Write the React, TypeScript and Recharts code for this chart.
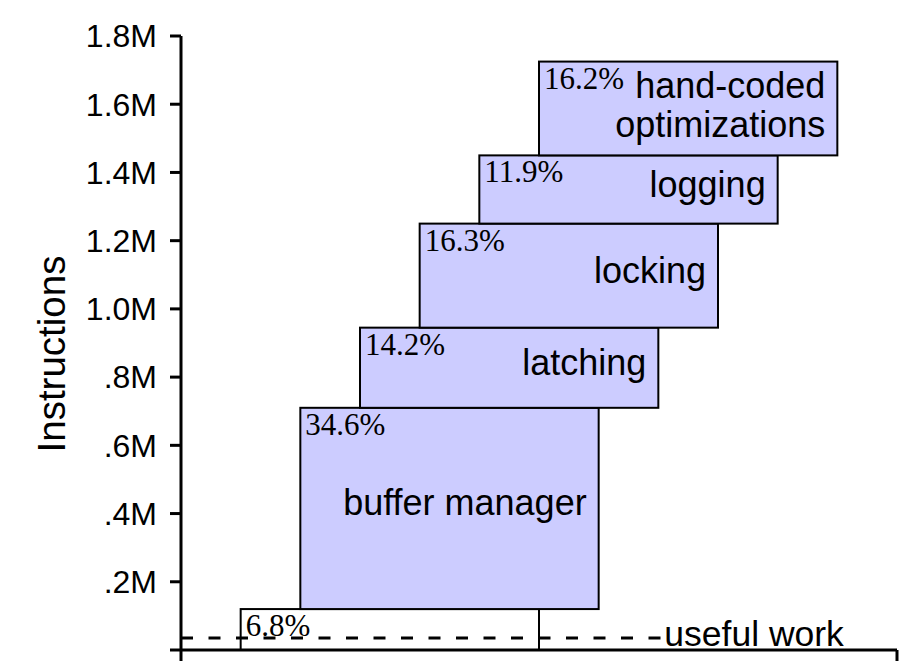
import React from 'react';
import { ComposedChart, XAxis, YAxis, ReferenceArea, ReferenceLine, Label } from 'recharts';

// ---- data ----
const categories = ['useful work', 'buffer manager', 'latching', 'locking', 'logging', 'hand-coded optimizations'];
const nameLines: string[][] = [[], ['buffer manager'], ['latching'], ['locking'], ['logging'], ['hand-coded', 'optimizations']];
const percentLabels = ['6.8%', '34.6%', '14.2%', '16.3%', '11.9%', '16.2%'];
const bottoms = [0, 0.12, 0.71, 0.945, 1.25, 1.45]; // millions of instructions
const tops = [0.12, 0.71, 0.945, 1.25, 1.45, 1.725];
const stepStart = [1, 2, 3, 4, 5, 6];
const stepEnd = [6, 7, 8, 9, 10, 11];
const usefulWorkLevel = 0.035;
const usefulWorkEnd = 8.05;
const yTicks = [0, 0.2, 0.4, 0.6, 0.8, 1.0, 1.2, 1.4, 1.6, 1.8];
const xTicks = [0, 12];

const rows = categories.map((c, i) => ({ name: c, x: stepStart[i], low: bottoms[i], high: tops[i] }));

const SANS = '"Liberation Sans", Arial, Helvetica, sans-serif';
const SERIF = '"Liberation Serif", "Times New Roman", serif';
const BOX_FILL = '#CCCCFF';

const fmtY = (v: number) => {
  if (v === 0) return '';
  if (v < 1) return '.' + Math.round(v * 10) + 'M';
  return v.toFixed(1) + 'M';
};

const makeBoxShape = (i: number) => (props: any) => {
  const { x, y, width, height } = props;
  const lines = nameLines[i];
  const mid = y + height / 2;
  const n = lines.length;
  return (
    <g>
      <rect x={x} y={y} width={width} height={height} fill={i === 0 ? '#FFFFFF' : BOX_FILL} stroke="#000" strokeWidth={2} />
      <text x={x + 5} y={y + 27} fontFamily={SERIF} fontSize={31} fill="#000">
        {percentLabels[i]}
      </text>
      {lines.map((ln, k) => (
        <text
          key={k}
          x={x + width - 12}
          y={n === 1 ? mid + 7 : mid + 9 - ((n - 1) * 39) / 2 + k * 39}
          textAnchor="end"
          fontFamily={SANS}
          fontSize={36}
          fill="#000"
        >
          {ln}
        </text>
      ))}
    </g>
  );
};

const UsefulLabel = (props: any) => {
  const vb = props.viewBox || {};
  const x = (vb.x ?? 0) + (vb.width ?? 0) + 3;
  const y = (vb.y ?? 0) + 8;
  return (
    <text x={x} y={y} fontFamily={SANS} fontSize={35.5} fill="#000">
      {categories[0]}
    </text>
  );
};

const YLabel = (props: any) => {
  const vb = props.viewBox || {};
  const x = (vb.x ?? 0) + 65;
  const y = (vb.y ?? 0) + (vb.height ?? 0) / 2 + 11;
  return (
    <text x={x} y={y} transform={`rotate(-90, ${x}, ${y})`} textAnchor="middle" fontFamily={SANS} fontSize={38.5} fill="#000">
      Instructions
    </text>
  );
};

export default function App() {
  return (
    <div style={{ position: 'absolute', left: 0, top: 0, width: 908, height: 670, background: '#fff' }}>
      <ComposedChart width={908} height={670} data={rows} margin={{ top: 36, right: 11, bottom: 0, left: 0 }}>
        <XAxis
          type="number"
          dataKey="x"
          domain={[0, 12]}
          ticks={xTicks}
          tickSize={11}
          height={20}
          tickFormatter={() => ''}
          axisLine={{ stroke: '#000', strokeWidth: 3 }}
          tickLine={{ stroke: '#000', strokeWidth: 3 }}
          allowDataOverflow
        />
        <YAxis
          type="number"
          domain={[0, 1.8]}
          ticks={yTicks}
          interval={0}
          width={181}
          tickSize={11}
          tickMargin={13}
          tickFormatter={fmtY}
          tick={{ fill: '#000', fontSize: 32, fontFamily: SANS }}
          axisLine={{ stroke: '#000', strokeWidth: 3 }}
          tickLine={{ stroke: '#000', strokeWidth: 3 }}
          allowDataOverflow
        >
          <Label content={<YLabel />} />
        </YAxis>
        {rows.map((r, i) => (
          <ReferenceArea
            key={r.name}
            x1={stepStart[i]}
            x2={stepEnd[i]}
            y1={bottoms[i]}
            y2={tops[i]}
            fill={i === 0 ? '#FFFFFF' : BOX_FILL}
            fillOpacity={1}
            stroke="#000"
            strokeWidth={2}
            ifOverflow="visible"
            shape={makeBoxShape(i)}
          />
        ))}
        <ReferenceLine
          segment={[
            { x: 0, y: usefulWorkLevel },
            { x: usefulWorkEnd, y: usefulWorkLevel },
          ]}
          stroke="#000"
          strokeWidth={3}
          strokeDasharray="12 15.5"
          ifOverflow="visible"
          label={<UsefulLabel />}
        />
      </ComposedChart>
    </div>
  );
}
